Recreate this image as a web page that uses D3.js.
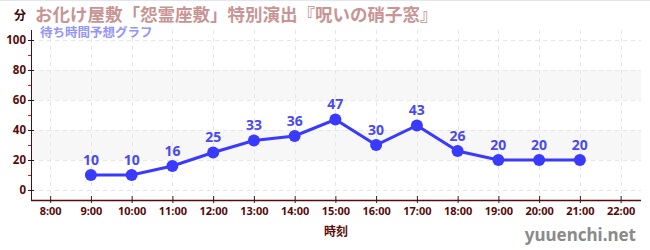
<!DOCTYPE html>
<html>
<head>
<meta charset="utf-8">
<script src="https://cdn.jsdelivr.net/npm/d3@7"></script>
<style>
  body { margin: 0; background: #fff; }
  svg { display: block; font-family: "Noto Sans CJK JP", "Noto Sans", sans-serif; }
</style>
</head>
<body>
<div class="chart"></div>
<script>
const hours = [9, 10, 11, 12, 13, 14, 15, 16, 17, 18, 19, 20, 21];
const waits = [10, 10, 16, 25, 33, 36, 47, 30, 43, 26, 20, 20, 20];
const xTicks = [8, 9, 10, 11, 12, 13, 14, 15, 16, 17, 18, 19, 20, 21, 22];
const yTicks = [0, 20, 40, 60, 80, 100];
const yMinor = [10, 30, 50, 70, 90];
const bands = [[20, 40], [60, 80]];

const width = 650, height = 250;
const numFont = "Noto Sans, sans-serif";

const x = d3.scaleLinear().domain([7.53, 22.5]).range([31, 641]);
const y = d3.scaleLinear().domain([-6.67, 106.67]).range([200, 30]);

const svg = d3.select(".chart").append("svg")
    .attr("width", width)
    .attr("height", height);

svg.append("line")
    .attr("x1", 0).attr("x2", width).attr("y1", 0.5).attr("y2", 0.5)
    .attr("stroke", "#e4e4f8");

// bands
svg.append("g")
    .selectAll("rect")
    .data(bands)
    .join("rect")
    .attr("x", 31)
    .attr("width", 610)
    .attr("y", d => y(d[1]))
    .attr("height", d => y(d[0]) - y(d[1]))
    .attr("fill", "#f7f7f7");

// grid
const grid = svg.append("g")
    .attr("stroke", "#e6e6e6")
    .attr("stroke-dasharray", "4,4");
grid.selectAll("line.h")
    .data(yTicks)
    .join("line")
    .attr("class", "h")
    .attr("x1", 31).attr("x2", 641)
    .attr("y1", d => y(d) + 0.5).attr("y2", d => y(d) + 0.5);
grid.selectAll("line.v")
    .data(xTicks)
    .join("line")
    .attr("class", "v")
    .attr("y1", 30).attr("y2", 200)
    .attr("x1", d => Math.round(x(d)) + 0.5).attr("x2", d => Math.round(x(d)) + 0.5);

// axes
const axisColor = "#5a0a0a";
const yAxis = svg.append("g")
    .attr("transform", "translate(31,0)")
    .call(d3.axisLeft(y).tickValues(yTicks).tickSize(5).tickPadding(2));
yAxis.select(".domain").attr("stroke", axisColor).attr("d", `M0.5,30V200`);
yAxis.selectAll(".tick line").attr("stroke", "#222").attr("x1", 3).attr("x2", -3);
yAxis.selectAll("text")
    .attr("fill", axisColor)
    .attr("font-size", 11.5)
    .attr("font-weight", "bold")
    .attr("font-family", numFont)
    .attr("x", -5);

svg.append("g")
    .selectAll("line")
    .data(yMinor)
    .join("line")
    .attr("x1", 28).attr("x2", 31)
    .attr("y1", d => y(d) + 0.5).attr("y2", d => y(d) + 0.5)
    .attr("stroke", "#cc2222");

const xAxis = svg.append("g")
    .attr("transform", "translate(0,200)")
    .call(d3.axisBottom(x).tickValues(xTicks).tickFormat(d => d + ":00").tickSize(4).tickPadding(3));
xAxis.select(".domain").attr("stroke", axisColor).attr("stroke-width", 1.5).attr("d", "M31,0.5H641");
xAxis.selectAll(".tick line").attr("stroke", "#222").attr("y1", -4).attr("y2", 3);
xAxis.selectAll("text")
    .attr("fill", axisColor)
    .attr("font-size", 11)
    .attr("font-weight", "bold")
    .attr("font-family", numFont);

// line + points
const pts = hours.map((h, i) => ({ h, v: waits[i] }));
const line = d3.line().x(d => x(d.h)).y(d => y(d.v));

svg.append("path")
    .datum(pts)
    .attr("fill", "none")
    .attr("stroke", "#3a3aff")
    .attr("stroke-width", 3)
    .attr("d", line);

svg.append("g")
    .selectAll("circle")
    .data(pts)
    .join("circle")
    .attr("cx", d => x(d.h))
    .attr("cy", d => y(d.v))
    .attr("r", 6)
    .attr("fill", "#3a3aff");

svg.append("g")
    .attr("text-anchor", "middle")
    .attr("font-size", 14)
    .attr("font-weight", "bold")
    .attr("fill", "#4a4af0")
    .attr("font-family", numFont)
    .selectAll("text")
    .data(pts)
    .join("text")
    .attr("x", d => x(d.h))
    .attr("y", d => y(d.v) - 10)
    .text(d => d.v);

// titles
svg.append("text")
    .attr("x", 14).attr("y", 20)
    .attr("font-size", 12).attr("font-weight", "bold")
    .attr("fill", "#3a0a0a")
    .text("分");

svg.append("text")
    .attr("x", 35).attr("y", 21)
    .attr("font-size", 17.5).attr("font-weight", "bold")
    .attr("fill", "#c89494")
    .text("お化け屋敷「怨霊座敷」特別演出『呪いの硝子窓』");

svg.append("text")
    .attr("x", 40).attr("y", 37)
    .attr("font-size", 12.5).attr("font-weight", "bold")
    .attr("fill", "#9494ff")
    .text("待ち時間予想グラフ");

svg.append("text")
    .attr("x", 336).attr("y", 236)
    .attr("text-anchor", "middle")
    .attr("font-size", 12).attr("font-weight", "bold")
    .attr("fill", axisColor)
    .text("時刻");

svg.append("text")
    .attr("x", 636).attr("y", 241)
    .attr("text-anchor", "end")
    .attr("font-size", 17).attr("font-weight", "bold")
    .attr("fill", "#8a8a8a")
    .attr("font-family", numFont)
    .text("yuuenchi.net");
</script>
</body>
</html>
